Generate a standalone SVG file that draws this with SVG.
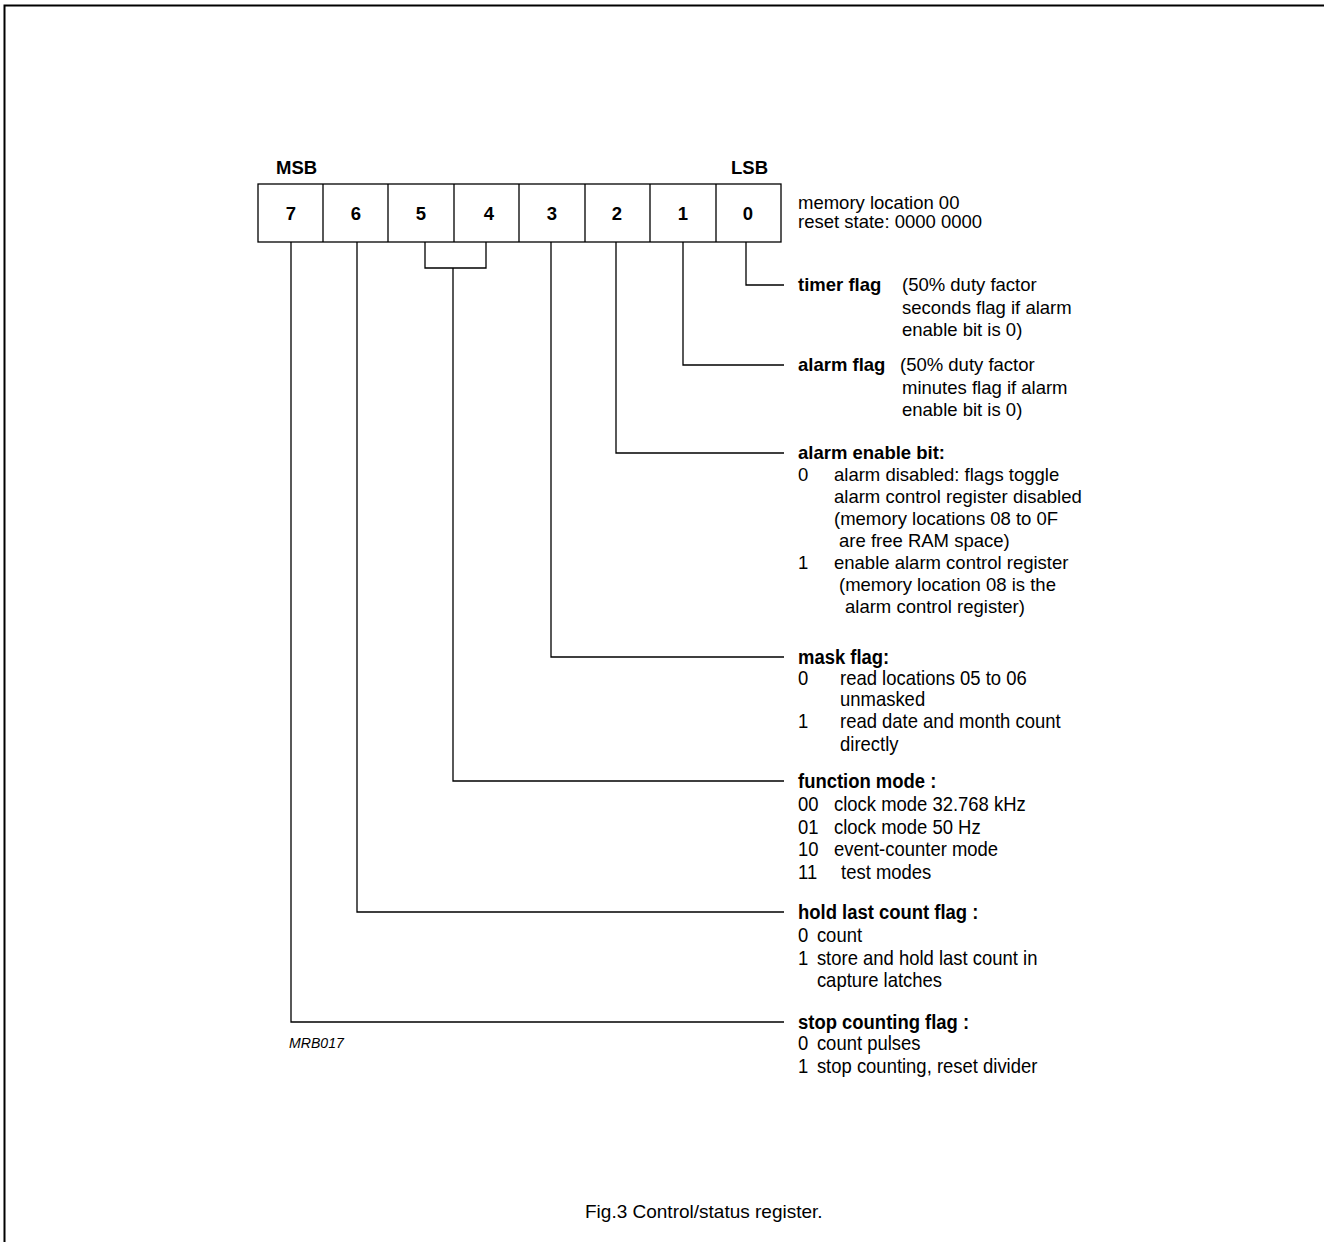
<svg xmlns="http://www.w3.org/2000/svg" width="1324" height="1242" viewBox="0 0 1324 1242">
<style>
text{font-family:"Liberation Sans",Arial,sans-serif;fill:#000}
.t{font-size:18.5px}
.b{font-size:18.5px;font-weight:bold}
.d{font-size:18.5px;font-weight:bold;text-anchor:middle}
.w{stroke:#000;stroke-width:1.3;fill:none}
.n{font-size:20.5px}
.nb{font-size:20.5px;font-weight:bold}
</style>
<rect width="1324" height="1242" fill="#fff"/>
<path d="M4.5 1242V5.5H1324" stroke="#000" stroke-width="2" fill="none"/>
<g id="register">
<rect x="258" y="184" width="523" height="58" class="w"/>
<path class="w" d="M323 184V242M388 184V242M454 184V242M519 184V242M585 184V242M650 184V242M716 184V242"/>
<text class="b" x="276" y="174">MSB</text>
<text class="b" x="731" y="174">LSB</text>
<text class="d" x="291" y="220">7</text>
<text class="d" x="356" y="220">6</text>
<text class="d" x="421" y="220">5</text>
<text class="d" x="489" y="220">4</text>
<text class="d" x="552" y="220">3</text>
<text class="d" x="617" y="220">2</text>
<text class="d" x="683" y="220">1</text>
<text class="d" x="748" y="220">0</text>
<text class="t" x="798" y="209">memory location 00</text>
<text class="t" x="798" y="228">reset state: 0000 0000</text>
</g>
<g id="connectors" class="w">
<path d="M746 242V285H784"/>
<path d="M683 242V365H784"/>
<path d="M616 242V453H784"/>
<path d="M551 242V657H784"/>
<path d="M425 242V268H486V242M453 268V781H784"/>
<path d="M357 242V912H784"/>
<path d="M291 242V1022H784"/>
</g>
<g id="bit0">
<text class="b" x="798" y="291">timer flag</text>
<text class="t" x="902" y="291">(50% duty factor</text>
<text class="t" x="902" y="314">seconds flag if alarm</text>
<text class="t" x="902" y="336">enable bit is 0)</text>
</g>
<g id="bit1">
<text class="b" x="798" y="371">alarm flag</text>
<text class="t" x="900" y="371">(50% duty factor</text>
<text class="t" x="902" y="394">minutes flag if alarm</text>
<text class="t" x="902" y="416">enable bit is 0)</text>
</g>
<g id="bit2">
<text class="b" x="798" y="459">alarm enable bit:</text>
<text class="t" x="798" y="481">0</text>
<text class="t" x="834" y="481">alarm disabled: flags toggle</text>
<text class="t" x="834" y="503">alarm control register disabled</text>
<text class="t" x="834" y="525">(memory locations 08  to 0F</text>
<text class="t" x="839" y="547">are free RAM space)</text>
<text class="t" x="798" y="569">1</text>
<text class="t" x="834" y="569">enable alarm control register</text>
<text class="t" x="839" y="591">(memory  location 08 is the</text>
<text class="t" x="845" y="613">alarm control register)</text>
</g>
<g id="bit3" transform="translate(798 0) scale(0.9 1)">
<text class="nb" x="0" y="664">mask flag:</text>
<text class="n" x="0" y="685">0</text>
<text class="n" x="46.7" y="685">read locations 05 to 06</text>
<text class="n" x="46.7" y="706">unmasked</text>
<text class="n" x="0" y="728">1</text>
<text class="n" x="46.7" y="728">read date and month count</text>
<text class="n" x="46.7" y="751">directly</text>
</g>
<g id="bits54" transform="translate(798 0) scale(0.9 1)">
<text class="nb" x="0" y="788">function mode :</text>
<text class="n" x="0" y="811">00</text>
<text class="n" x="40" y="811">clock mode 32.768 kHz</text>
<text class="n" x="0" y="834">01</text>
<text class="n" x="40" y="834">clock mode 50 Hz</text>
<text class="n" x="0" y="856">10</text>
<text class="n" x="40" y="856">event-counter mode</text>
<text class="n" x="0" y="879">11</text>
<text class="n" x="47.8" y="879">test modes</text>
</g>
<g id="bit6" transform="translate(798 0) scale(0.9 1)">
<text class="nb" x="0" y="919">hold last count flag :</text>
<text class="n" x="0" y="942">0</text>
<text class="n" x="21" y="942">count</text>
<text class="n" x="0" y="965">1</text>
<text class="n" x="21" y="965">store and hold last count in</text>
<text class="n" x="21" y="987">capture latches</text>
</g>
<g id="bit7" transform="translate(798 0) scale(0.9 1)">
<text class="nb" x="0" y="1029">stop counting flag :</text>
<text class="n" x="0" y="1050">0</text>
<text class="n" x="21" y="1050">count pulses</text>
<text class="n" x="0" y="1073">1</text>
<text class="n" x="21" y="1073">stop counting, reset divider</text>
</g>
<text x="289" y="1048" style="font-size:15px;font-style:italic" transform="translate(289 0) scale(0.94 1) translate(-289 0)">MRB017</text>
<text x="585" y="1218" style="font-size:19px">Fig.3  Control/status register.</text>
</svg>
